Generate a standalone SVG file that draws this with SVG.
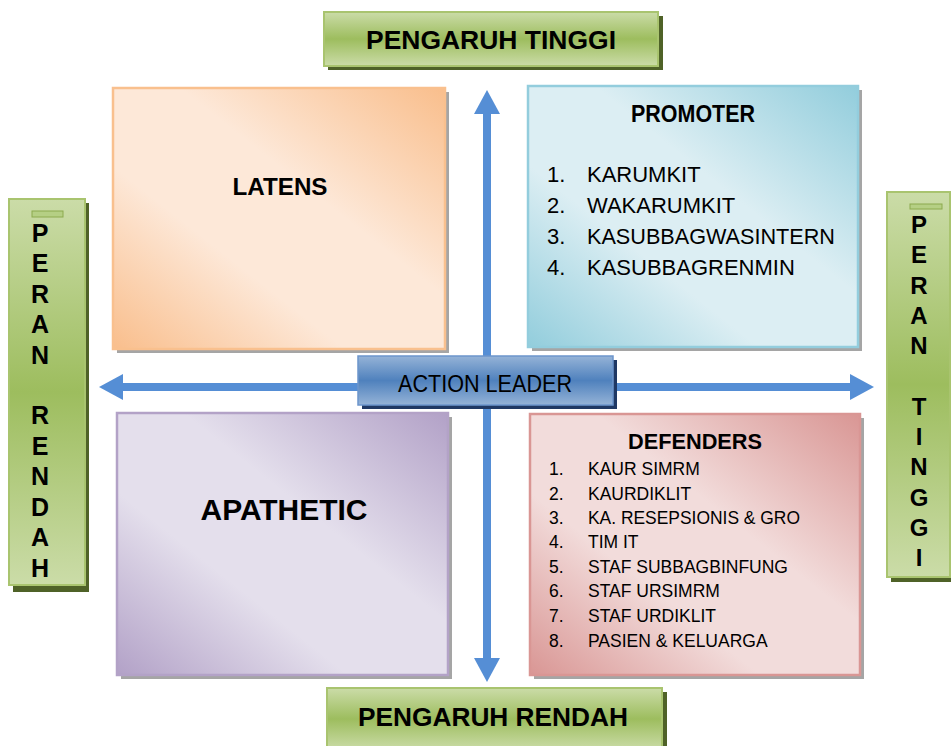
<svg xmlns="http://www.w3.org/2000/svg" width="951" height="746" viewBox="0 0 951 746">
<defs>
<linearGradient id="gGreen" x1="0" y1="0" x2="0" y2="1">
<stop offset="0" stop-color="#CBDCA8"/><stop offset="0.5" stop-color="#9DBD5E"/><stop offset="1" stop-color="#CBDCA8"/>
</linearGradient>
<linearGradient id="gOrange" x1="0" y1="1" x2="1" y2="0">
<stop offset="0" stop-color="#F9BE8C"/><stop offset="0.35" stop-color="#FDE8D8"/><stop offset="0.6" stop-color="#FDE8D8"/><stop offset="1" stop-color="#F9BE8C"/>
</linearGradient>
<linearGradient id="gBlue" x1="0" y1="1" x2="1" y2="0">
<stop offset="0" stop-color="#92CDDC"/><stop offset="0.35" stop-color="#DCEEF3"/><stop offset="0.6" stop-color="#DCEEF3"/><stop offset="1" stop-color="#92CDDC"/>
</linearGradient>
<linearGradient id="gPurple" x1="0" y1="1" x2="1" y2="0">
<stop offset="0" stop-color="#B2A1C7"/><stop offset="0.35" stop-color="#E4DFEC"/><stop offset="0.6" stop-color="#E4DFEC"/><stop offset="1" stop-color="#B2A1C7"/>
</linearGradient>
<linearGradient id="gRed" x1="0" y1="1" x2="1" y2="0">
<stop offset="0" stop-color="#D99694"/><stop offset="0.35" stop-color="#F2DCDB"/><stop offset="0.6" stop-color="#F2DCDB"/><stop offset="1" stop-color="#D99694"/>
</linearGradient>
<linearGradient id="gAction" x1="0" y1="0" x2="0" y2="1">
<stop offset="0" stop-color="#95B3D7"/><stop offset="0.5" stop-color="#4F81BD"/><stop offset="1" stop-color="#95B3D7"/>
</linearGradient>
<marker id="ah" markerUnits="userSpaceOnUse" markerWidth="24" markerHeight="26" refX="0" refY="13" orient="auto-start-reverse">
<path d="M0,0 L24,13 L0,26 z" fill="#558ED5"/>
</marker>
<style>
.t{font-family:"Liberation Sans",Arial,sans-serif;fill:#000}
.b{font-weight:bold}
.sh{fill:#7F7F7F;opacity:0.7}
.gshadow{fill:#4F6228}
.green{fill:url(#gGreen);stroke:#A9C46F;stroke-width:2}
.conn{stroke:#558ED5;stroke-width:8;fill:none}
</style>
</defs>

<g id="connectors">
<line class="conn" x1="123" y1="387" x2="850" y2="387" marker-start="url(#ah)" marker-end="url(#ah)"/>
<line class="conn" x1="487" y1="114" x2="487" y2="658" marker-start="url(#ah)" marker-end="url(#ah)"/>
</g>

<g id="pengaruh-tinggi">
<rect class="gshadow" x="328" y="16" width="335" height="54"/>
<rect class="green" x="324" y="12" width="334" height="54"/>
<text class="t b" x="491" y="49" font-size="26" text-anchor="middle" textLength="250" lengthAdjust="spacingAndGlyphs">PENGARUH TINGGI</text>
</g>

<g id="pengaruh-rendah">
<rect class="gshadow" x="331" y="692" width="336" height="60"/>
<rect class="green" x="327" y="688" width="335" height="62"/>
<text class="t b" x="493" y="726" font-size="26" text-anchor="middle" textLength="270" lengthAdjust="spacingAndGlyphs">PENGARUH RENDAH</text>
</g>

<g id="peran-rendah">
<rect class="gshadow" x="13" y="203" width="76" height="389"/>
<rect class="green" x="9" y="199" width="76" height="386"/>
<rect x="32" y="211" width="31" height="6" fill="#B5CF84" stroke="#8CAA4E" stroke-width="1"/>
<g class="t b" font-size="25" text-anchor="middle">
<text x="40" y="242">P</text>
<text x="40" y="272">E</text>
<text x="40" y="303">R</text>
<text x="40" y="333">A</text>
<text x="40" y="364">N</text>
<text x="40" y="424">R</text>
<text x="40" y="455">E</text>
<text x="40" y="485">N</text>
<text x="40" y="516">D</text>
<text x="40" y="546">A</text>
<text x="40" y="577">H</text>
</g>
</g>

<g id="peran-tinggi">
<rect class="gshadow" x="891" y="196" width="64" height="386"/>
<rect class="green" x="887" y="192" width="63" height="385"/>
<rect x="910" y="204" width="32" height="5" fill="#B5CF84" stroke="#8CAA4E" stroke-width="1"/>
<g class="t b" font-size="24" text-anchor="middle">
<text x="919" y="233">P</text>
<text x="919" y="263">E</text>
<text x="919" y="294">R</text>
<text x="919" y="324">A</text>
<text x="919" y="354">N</text>
<text x="919" y="415">T</text>
<text x="919" y="445">I</text>
<text x="919" y="475">N</text>
<text x="919" y="506">G</text>
<text x="919" y="536">G</text>
<text x="919" y="566">I</text>
</g>
</g>

<g id="latens">
<rect class="sh" x="117" y="92" width="332" height="261"/>
<rect x="113" y="88" width="332" height="261" fill="url(#gOrange)" stroke="#F9C08E" stroke-width="2.5"/>
<text class="t b" x="280" y="195" font-size="24" text-anchor="middle" textLength="95" lengthAdjust="spacingAndGlyphs">LATENS</text>
</g>

<g id="promoter">
<rect class="sh" x="532" y="90" width="330" height="261"/>
<rect x="528" y="86" width="330" height="261" fill="url(#gBlue)" stroke="#93CDDD" stroke-width="2.5"/>
<text class="t b" x="693" y="122" font-size="23" text-anchor="middle" textLength="124" lengthAdjust="spacingAndGlyphs">PROMOTER</text>
<g class="t" font-size="22">
<text x="547" y="182">1.</text><text x="587" y="182">KARUMKIT</text>
<text x="547" y="213">2.</text><text x="587" y="213">WAKARUMKIT</text>
<text x="547" y="244">3.</text><text x="587" y="244" textLength="248" lengthAdjust="spacingAndGlyphs">KASUBBAGWASINTERN</text>
<text x="547" y="275">4.</text><text x="587" y="275">KASUBBAGRENMIN</text>
</g>
</g>

<g id="apathetic">
<rect class="sh" x="121" y="417" width="331" height="262"/>
<rect x="117" y="413" width="331" height="262" fill="url(#gPurple)" stroke="#B3A2C7" stroke-width="2.5"/>
<text class="t b" x="284" y="520" font-size="29" text-anchor="middle" textLength="167" lengthAdjust="spacingAndGlyphs">APATHETIC</text>
</g>

<g id="defenders">
<rect class="sh" x="534" y="418" width="330" height="261"/>
<rect x="530" y="414" width="330" height="261" fill="url(#gRed)" stroke="#D99694" stroke-width="2.5"/>
<text class="t b" x="695" y="449" font-size="22" text-anchor="middle" textLength="134" lengthAdjust="spacingAndGlyphs">DEFENDERS</text>
<g class="t" font-size="17.5">
<text x="549" y="475">1.</text><text x="588" y="475">KAUR SIMRM</text>
<text x="549" y="500">2.</text><text x="588" y="500">KAURDIKLIT</text>
<text x="549" y="524">3.</text><text x="588" y="524" textLength="212" lengthAdjust="spacingAndGlyphs">KA. RESEPSIONIS &amp; GRO</text>
<text x="549" y="548">4.</text><text x="588" y="548">TIM IT</text>
<text x="549" y="573">5.</text><text x="588" y="573">STAF SUBBAGBINFUNG</text>
<text x="549" y="597">6.</text><text x="588" y="597">STAF URSIMRM</text>
<text x="549" y="622">7.</text><text x="588" y="622">STAF URDIKLIT</text>
<text x="549" y="647">8.</text><text x="588" y="647">PASIEN &amp; KELUARGA</text>
</g>
</g>

<g id="action-leader">
<rect x="362" y="360" width="255" height="49" fill="#1F3864"/>
<rect x="358" y="356" width="255" height="49" fill="url(#gAction)" stroke="#6C95CC" stroke-width="1.5"/>
<text class="t" x="485" y="392" font-size="23" text-anchor="middle" textLength="174" lengthAdjust="spacingAndGlyphs">ACTION LEADER</text>
</g>
</svg>
